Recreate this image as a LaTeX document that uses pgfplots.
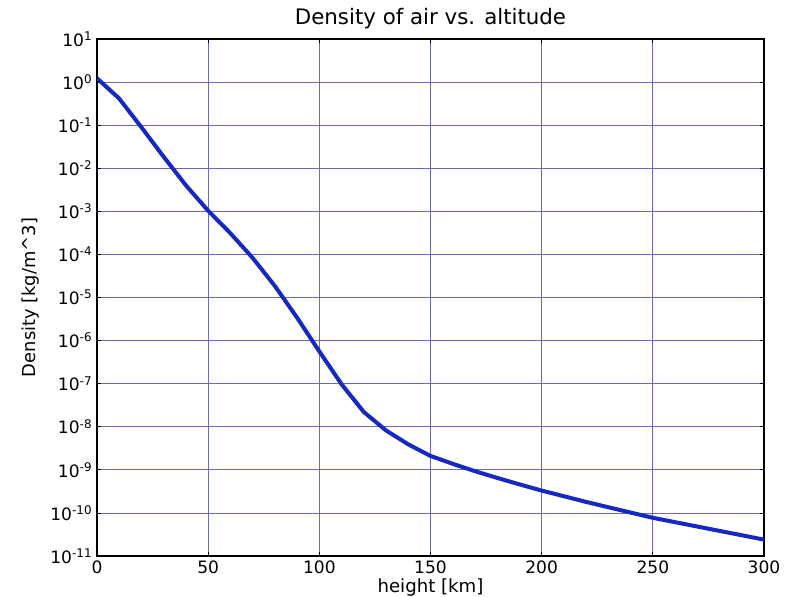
\documentclass[border=0pt]{standalone}
\usepackage{pgfplots}
\pgfplotsset{compat=1.18}
\usepackage{fontspec}
\setmainfont{DejaVu Sans}
\definecolor{lineblue}{RGB}{22,40,195}
\definecolor{gridblue}{RGB}{105,105,195}
\begin{document}
\begin{tikzpicture}
\begin{axis}[
  anchor=south west, at={(0pt,0pt)},
  scale only axis, width=500.25pt, height=387.75pt,
  xmin=0, xmax=300, ymin=1e-11, ymax=10,
  ymode=log,
  xtick={0,50,100,150,200,250,300},
  ytick={1e-11,1e-10,1e-9,1e-8,1e-7,1e-6,1e-5,1e-4,1e-3,1e-2,1e-1,1,10},
  yticklabels={10\textsuperscript{-11},10\textsuperscript{-10},10\textsuperscript{-9},10\textsuperscript{-8},10\textsuperscript{-7},10\textsuperscript{-6},10\textsuperscript{-5},10\textsuperscript{-4},10\textsuperscript{-3},10\textsuperscript{-2},10\textsuperscript{-1},10\textsuperscript{0},10\textsuperscript{1}},
  minor tick style={draw=none},
  grid=major,
  major grid style={gridblue, line width=0.6pt},
  tick align=inside, major tick length=3pt,
  tick style={black, line width=0.6pt},
  axis line style={black, line width=0.8pt},
  xticklabel style={/pgf/number format/assume math mode=true, font=\fontsize{12.8}{14}\selectfont},
  yticklabel style={font=\fontsize{12.8}{14}\selectfont},
  every axis title shift=0pt,
  title={Density of air vs. altitude},
  title style={font=\fontsize{16}{18}\selectfont, at={(axis description cs:0.5,1.04)}, anchor=center},
  xlabel={height [km]},
  xlabel style={font=\fontsize{13.6}{15}\selectfont, at={(axis description cs:0.5,-0.06)}, anchor=center},
  ylabel={Density [kg/m\textasciicircum 3]},
  ylabel style={font=\fontsize{13.4}{15}\selectfont, at={(axis description cs:-0.1,0.5)}, anchor=center},
]
\addplot[lineblue, line width=3pt] coordinates {
(0,1.225) (10,0.4135) (20,0.0889) (30,0.0184) (40,0.0040) (50,0.00103)
(60,3.1e-4) (70,8.3e-5) (80,1.85e-5) (90,3.4e-6) (100,5.6e-7) (110,9.7e-8)
(120,2.2e-8) (130,8.2e-9) (140,3.9e-9) (150,2.1e-9) (160,1.38e-9) (170,9.3e-10)
(180,6.5e-10) (190,4.6e-10) (200,3.3e-10) (220,1.8e-10) (240,1.02e-10) (250,7.7e-11)
(275,4.3e-11) (300,2.4e-11)
};
\end{axis}
\pgfresetboundingbox
\path[use as bounding box] (-72.75pt,-30pt) rectangle (518.25pt,417pt);
\end{tikzpicture}
\end{document}
